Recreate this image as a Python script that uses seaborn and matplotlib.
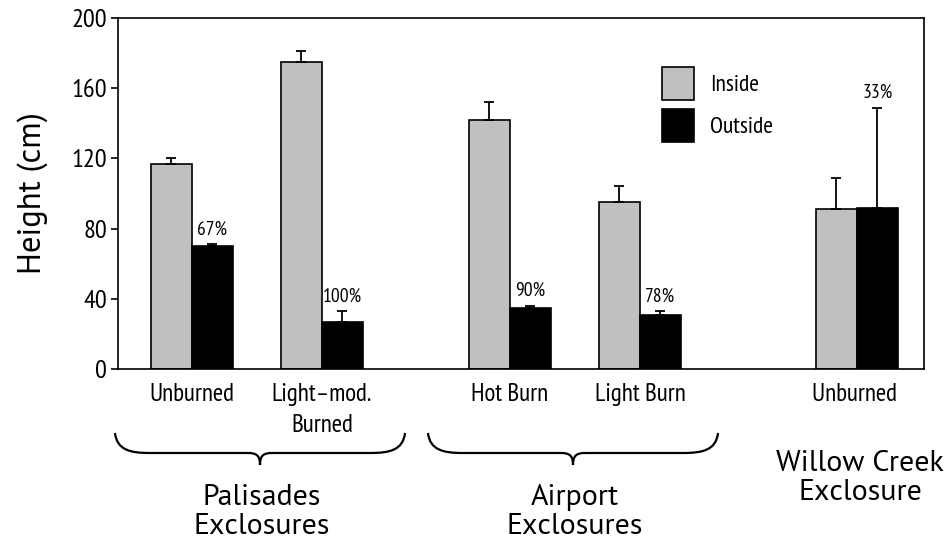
import matplotlib
matplotlib.use("Agg")
import matplotlib.pyplot as plt
from matplotlib.path import Path
from matplotlib.patches import PathPatch
import numpy as np
import pandas as pd
import seaborn as sns

# ---- data -------------------------------------------------------------
sites = ["Unburned", "Light\u2013mod.\nBurned", "Hot Burn", "Light Burn", "Unburned "]
inside_height = [117, 175, 142, 95, 91]
inside_err = [3, 6, 10, 9, 18]
outside_height = [70, 27, 35, 31, 92]
outside_err = [1, 6, 1, 2, 57]
outside_pct = ["67%", "100%", "90%", "78%", "33%"]
treatments = ["Inside", "Outside"]
group_names = ["Palisades\nExclosures", "Airport\nExclosures", "Willow Creek\nExclosure"]

# ---- layout -----------------------------------------------------------
site_pos = [0.0, 1.0, 2.446, 3.446, 5.115]
W, H = 953, 544

df = pd.DataFrame({
    "pos": site_pos * 2,
    "treatment": [treatments[0]] * len(sites) + [treatments[1]] * len(sites),
    "height": inside_height + outside_height,
})

sns.set_theme(style="ticks")
narrow = ["PT Sans Narrow", "DejaVu Sans"]
regular = ["PT Sans", "DejaVu Sans"]
plt.rcParams["font.family"] = narrow
plt.rcParams["text.color"] = "black"
plt.rcParams["axes.labelcolor"] = "black"
plt.rcParams["xtick.color"] = "black"
plt.rcParams["ytick.color"] = "black"

fig = plt.figure(figsize=(W / 100, H / 100), dpi=100)
ax = fig.add_axes([118 / W, (H - 369) / H, 806 / W, 351 / H])

sns.barplot(
    data=df, x="pos", y="height", hue="treatment", hue_order=treatments,
    native_scale=True, width=0.63, errorbar=None,
    palette={"Inside": "#c0c0c0", "Outside": "#000000"},
    edgecolor="black", linewidth=1.2, ax=ax, legend=True,
)

# one-sided error bars and percentage labels
errs = [inside_err, outside_err]
vals = [inside_height, outside_height]
for k, cont in enumerate(ax.containers[:2]):
    xs = [p.get_x() + p.get_width() / 2 for p in cont.patches]
    ax.errorbar(xs, vals[k], yerr=[np.zeros(len(xs)), errs[k]], fmt="none",
                ecolor="black", elinewidth=1.3, capsize=3.5, capthick=1.3,
                zorder=1)
    if k == 1:
        for x, v, e, t in zip(xs, vals[k], errs[k], outside_pct):
            ax.annotate(t, (x, v + e), xytext=(0, 7), textcoords="offset points",
                        ha="center", va="baseline", fontsize=14, family=narrow)

ax.set_xlim(-0.569, 5.631)
ax.set_ylim(0, 200)
ax.set_yticks([0, 40, 80, 120, 160, 200])
ax.set_xticks(site_pos)
ax.set_xticklabels(sites, linespacing=1.45)
ax.tick_params(axis="x", length=0, pad=10, labelsize=18)
ax.tick_params(axis="y", length=5, width=1.2, pad=3, labelsize=19)
for s in ax.spines.values():
    s.set_linewidth(1.2)
    s.set_color("black")
    s.set_visible(True)
ax.set_xlabel("")
ax.set_ylabel("Height (cm)", fontsize=23.5, family=regular, labelpad=17)

handles, labels = ax.get_legend_handles_labels()
ax.legend(handles, labels, loc="upper left",
          bbox_to_anchor=(662 / W, 1 - 67 / H), bbox_transform=fig.transFigure,
          frameon=False, fontsize=17, handlelength=1.35, handleheight=1.8,
          handletextpad=0.7, labelspacing=0.35, borderpad=0, borderaxespad=0)


# curly braces under the site groups
def brace(x0, x1, ytop=433, ybar=453, ytip=465):
    xc = (x0 + x1) / 2
    pts = [
        (x0, ytop), (x0 + 2, ybar - 3), (x0 + 15, ybar), (x0 + 35, ybar),
        (xc - 12, ybar),
        (xc - 3, ybar), (xc, ybar + 3), (xc, ytip),
        (xc, ybar + 3), (xc + 3, ybar), (xc + 12, ybar),
        (x1 - 35, ybar),
        (x1 - 15, ybar), (x1 - 2, ybar - 3), (x1, ytop),
    ]
    codes = [Path.MOVETO, Path.CURVE4, Path.CURVE4, Path.CURVE4,
             Path.LINETO,
             Path.CURVE4, Path.CURVE4, Path.CURVE4,
             Path.CURVE4, Path.CURVE4, Path.CURVE4,
             Path.LINETO,
             Path.CURVE4, Path.CURVE4, Path.CURVE4]
    verts = [(x / W, 1 - y / H) for x, y in pts]
    fig.patches.append(PathPatch(Path(verts, codes), transform=fig.transFigure,
                                 fill=False, edgecolor="black", linewidth=1.6))


brace(115, 405)
brace(428, 718)

for name, (gx, gy) in zip(group_names, [(262, 512), (575, 512), (860, 478)]):
    fig.text(gx / W, 1 - gy / H, name, ha="center", va="center", fontsize=21.5,
             family=regular, linespacing=1.05)

fig.savefig("out.png", dpi=100)
